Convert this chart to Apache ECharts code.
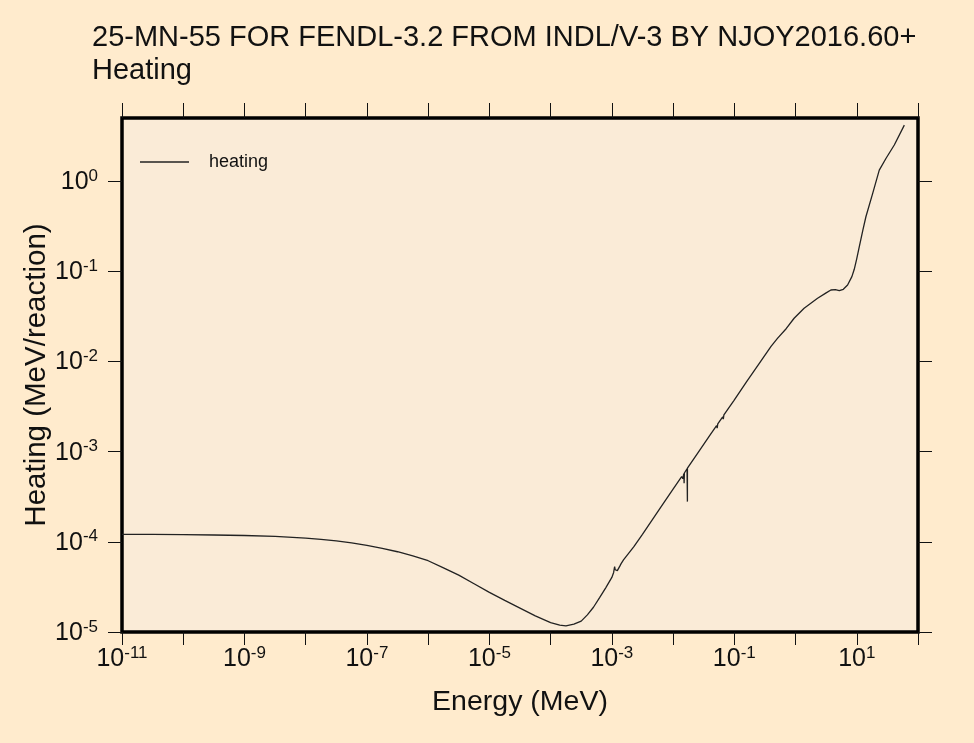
<!DOCTYPE html>
<html>
<head>
<meta charset="utf-8">
<script src="https://cdn.jsdelivr.net/npm/echarts@6/dist/echarts.min.js"></script>
<style>
  html, body { margin: 0; padding: 0; background: #ffebcd; }
  #chart { width: 974px; height: 743px; }
</style>
</head>
<body>
<div id="chart"></div>
<script>
// Incident neutron energy (MeV) and heating (MeV/reaction) for Mn-55
const energyMeV = [
  1e-11, 3.16e-11, 1e-10, 3.16e-10, 1e-9, 3.16e-9, 1e-8, 1.78e-8, 3.16e-8, 5.62e-8,
  1e-7, 1.78e-7, 3.16e-7, 5.62e-7, 1e-6, 1.78e-6, 3.16e-6, 5.62e-6, 1e-5, 1.78e-5,
  3.16e-5, 5.62e-5, 1e-4, 1.41e-4, 1.78e-4, 2.40e-4, 3.16e-4,
  3.98e-4, 5.01e-4, 6.31e-4, 7.94e-4, 1.00e-3, 1.07e-3, 1.11e-3, 1.135e-3, 1.23e-3, 1.35e-3,
  1.41e-3, 1.55e-3, 1.585e-3, 1.62e-3, 2.29e-3, 3.16e-3, 6.31e-3, 1.00e-2, 1.38e-2, 1.445e-2,
  1.496e-2, 1.512e-2, 1.514e-2, 1.53e-2, 1.69e-2, 1.712e-2, 1.714e-2, 1.716e-2, 1.74e-2, 2.51e-2,
  3.98e-2, 5.13e-2, 5.25e-2, 5.37e-2, 6.46e-2, 6.61e-2, 6.76e-2, 9.77e-2, 0.1, 0.102,
  0.158, 0.251, 0.398, 0.507, 0.708, 0.948, 1.38, 2.29, 3.16, 3.78,
  4.47, 5.18, 6.03, 7.08, 8.32, 9.10, 10.0, 11.0, 12.6, 14.1,
  18.2, 23.3, 30.1, 41.0, 59.8
];
const heating = [
  1.21e-4, 1.208e-4, 1.20e-4, 1.19e-4, 1.175e-4, 1.148e-4, 1.10e-4, 1.066e-4, 1.023e-4, 9.72e-5,
  9.12e-5, 8.47e-5, 7.76e-5, 6.97e-5, 6.17e-5, 5.15e-5, 4.27e-5, 3.43e-5, 2.75e-5, 2.24e-5,
  1.84e-5, 1.51e-5, 1.27e-5, 1.19e-5, 1.17e-5, 1.22e-5, 1.32e-5,
  1.55e-5, 1.88e-5, 2.40e-5, 3.09e-5, 4.03e-5, 4.57e-5, 5.31e-5, 4.90e-5, 4.79e-5, 5.37e-5,
  5.69e-5, 6.31e-5, 6.03e-5, 6.46e-5, 8.83e-5, 1.21e-4, 2.43e-4, 3.84e-4, 5.28e-4, 5.01e-4,
  5.71e-4, 5.74e-4, 4.47e-4, 5.79e-4, 6.46e-4, 6.50e-4, 2.79e-4, 6.55e-4, 6.64e-4, 9.55e-4,
  1.51e-3, 1.94e-3, 1.82e-3, 2.03e-3, 2.43e-3, 2.29e-3, 2.55e-3, 3.66e-3, 3.51e-3, 3.84e-3,
  5.92e-3, 9.33e-3, 1.47e-2, 1.80e-2, 2.32e-2, 3.01e-2, 3.88e-2, 5.01e-2, 5.75e-2, 6.19e-2,
  6.24e-2, 6.08e-2, 6.31e-2, 7.03e-2, 8.71e-2, 0.105, 0.138, 0.187, 0.288, 0.402,
  0.730, 1.32, 1.79, 2.51, 4.17
];

// Axis ranges, tick positions and labelled decades
const xMin = 1e-11, xMax = 1e2;
const yMin = 1e-5, yMax = 5;
const xTickValues = [1e-11, 1e-10, 1e-9, 1e-8, 1e-7, 1e-6, 1e-5, 1e-4, 1e-3, 1e-2, 1e-1, 1e0, 1e1, 1e2];
const xLabelValues = [1e-11, 1e-9, 1e-7, 1e-5, 1e-3, 1e-1, 1e1];
const yTickValues = [1e-5, 1e-4, 1e-3, 1e-2, 1e-1, 1e0];

const titleText = '25-MN-55 FOR FENDL-3.2 FROM INDL/V-3 BY NJOY2016.60+';
const subTitleText = 'Heating';
const xName = 'Energy (MeV)';
const yName = 'Heating (MeV/reaction)';
const seriesName = 'heating';

const FONT = '"Liberation Sans", Arial, sans-serif';

function powerLabel(value) {
  const e = Math.log10(value);
  const r = Math.round(e);
  if (Math.abs(e - r) > 1e-6) return '';
  return '{b|10}{s|' + r + '}';
}

const labelRich = {
  b: { fontSize: 25, fontFamily: FONT, color: '#111', verticalAlign: 'bottom', lineHeight: 27 },
  s: { fontSize: 17, fontFamily: FONT, color: '#111', verticalAlign: 'top', lineHeight: 17 }
};

const tickStyle = { color: '#111', width: 1 };

const chart = echarts.init(document.getElementById('chart'));
chart.setOption({
  backgroundColor: '#ffebcd',
  animation: false,
  title: {
    text: titleText + '\n' + subTitleText,
    left: 92,
    top: 21,
    padding: 0,
    textStyle: { fontSize: 29, fontWeight: 'normal', fontFamily: FONT, color: '#111', lineHeight: 33 }
  },
  legend: {
    left: 140,
    top: 153,
    padding: 0,
    itemWidth: 49,
    itemHeight: 1.5,
    data: [{ name: seriesName, icon: 'rect' }],
    itemStyle: { color: '#222' },
    textStyle: { fontSize: 18, fontFamily: FONT, color: '#111', padding: [0, 0, 0, 15] }
  },
  grid: {
    left: 122, top: 118, right: 56, bottom: 111,
    show: true,
    backgroundColor: '#faebd7',
    borderColor: '#000',
    borderWidth: 3.5
  },
  xAxis: [
    {
      type: 'log', logBase: 10, min: xMin, max: xMax,
      position: 'bottom',
      name: xName, nameLocation: 'middle', nameGap: 56, nameMoveOverlap: false,
      nameTextStyle: { fontSize: 28.5, fontFamily: FONT, color: '#111' },
      axisLine: { show: false },
      axisTick: { show: true, inside: false, length: 13, customValues: xTickValues, lineStyle: tickStyle },
      axisLabel: { margin: 13, customValues: xLabelValues, formatter: powerLabel, rich: labelRich },
      splitLine: { show: false }
    },
    {
      type: 'log', logBase: 10, min: xMin, max: xMax,
      position: 'top',
      axisLine: { show: false },
      axisTick: { show: true, inside: false, length: 15, customValues: xTickValues, lineStyle: tickStyle },
      axisLabel: { show: false },
      splitLine: { show: false }
    }
  ],
  yAxis: [
    {
      type: 'log', logBase: 10, min: yMin, max: yMax,
      position: 'left',
      name: yName, nameLocation: 'middle', nameGap: 70, nameMoveOverlap: false,
      nameTextStyle: { fontSize: 29.5, fontFamily: FONT, color: '#111' },
      axisLine: { show: false },
      axisTick: { show: true, inside: false, length: 14, customValues: yTickValues, lineStyle: tickStyle },
      axisLabel: { margin: 24, customValues: yTickValues, formatter: powerLabel, rich: labelRich },
      splitLine: { show: false }
    },
    {
      type: 'log', logBase: 10, min: yMin, max: yMax,
      position: 'right',
      axisLine: { show: false },
      axisTick: { show: true, inside: false, length: 14, customValues: yTickValues, lineStyle: tickStyle },
      axisLabel: { show: false },
      splitLine: { show: false }
    }
  ],
  series: [
    {
      name: seriesName,
      type: 'line',
      xAxisIndex: 0,
      yAxisIndex: 0,
      symbol: 'none',
      smooth: false,
      lineStyle: { color: '#222', width: 1.3 },
      itemStyle: { color: '#222' },
      data: energyMeV.map((e, i) => [e, heating[i]])
    }
  ]
});
</script>
</body>
</html>
